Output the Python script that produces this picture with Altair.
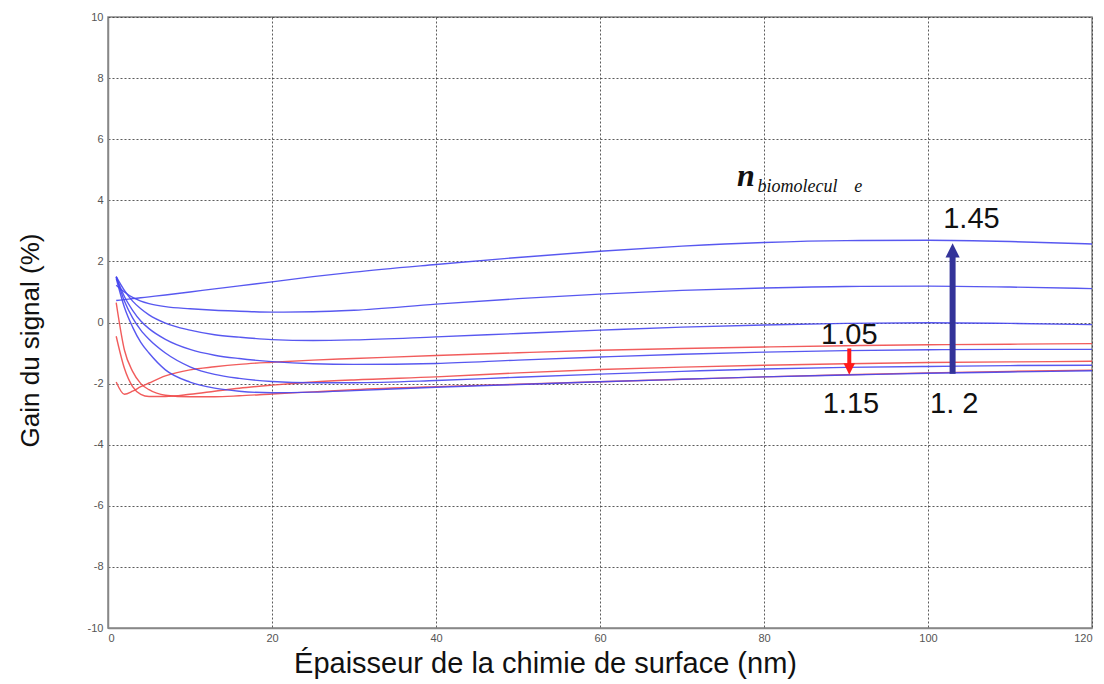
import altair as alt
import pandas as pd

# Thickness of the surface chemistry (nm)
thickness = [1, 2, 3, 4, 5, 7, 10, 13, 16, 20, 25, 30, 40, 50, 60, 70, 80, 90, 100, 110, 120]

# Signal gain (%) for each biomolecule refractive index
gain_105 = [-1.95, -2.35, -2.25, -2.10, -1.98, -1.75, -1.55, -1.45, -1.37, -1.30, -1.23, -1.18, -1.08, -0.99, -0.91, -0.85, -0.80, -0.76, -0.73, -0.71, -0.69]
gain_110 = [-0.45, -1.50, -2.10, -2.35, -2.42, -2.42, -2.35, -2.25, -2.15, -2.05, -1.95, -1.88, -1.78, -1.65, -1.54, -1.46, -1.40, -1.35, -1.31, -1.29, -1.27]
gain_115 = [0.65, -0.90, -1.60, -2.00, -2.20, -2.38, -2.43, -2.43, -2.40, -2.34, -2.27, -2.20, -2.10, -2.02, -1.94, -1.86, -1.78, -1.71, -1.65, -1.60, -1.56]
gain_120 = [1.45, 0.50, -0.15, -0.65, -1.00, -1.55, -1.95, -2.15, -2.25, -2.30, -2.28, -2.23, -2.12, -2.03, -1.94, -1.86, -1.78, -1.72, -1.66, -1.62, -1.58]
gain_125 = [1.50, 0.70, 0.15, -0.25, -0.55, -1.00, -1.45, -1.70, -1.83, -1.93, -1.97, -1.97, -1.90, -1.79, -1.69, -1.60, -1.52, -1.47, -1.44, -1.41, -1.40]
gain_130 = [1.50, 0.85, 0.40, 0.05, -0.20, -0.55, -0.88, -1.07, -1.18, -1.28, -1.35, -1.37, -1.34, -1.23, -1.13, -1.04, -0.97, -0.92, -0.89, -0.88, -0.88]
gain_135 = [1.50, 1.05, 0.70, 0.45, 0.25, -0.02, -0.25, -0.40, -0.48, -0.56, -0.59, -0.57, -0.47, -0.36, -0.25, -0.15, -0.08, -0.03, -0.01, -0.03, -0.07]
gain_140 = [1.22, 1.00, 0.82, 0.70, 0.62, 0.52, 0.45, 0.40, 0.37, 0.34, 0.35, 0.40, 0.60, 0.78, 0.93, 1.05, 1.13, 1.18, 1.19, 1.16, 1.11]
gain_145 = [0.72, 0.75, 0.78, 0.81, 0.84, 0.90, 1.00, 1.10, 1.20, 1.33, 1.50, 1.65, 1.90, 2.13, 2.33, 2.50, 2.62, 2.68, 2.69, 2.65, 2.57]

series_names = ["1.05", "1.10", "1.15", "1.20", "1.25", "1.30", "1.35", "1.40", "1.45"]
series_values = [gain_105, gain_110, gain_115, gain_120, gain_125, gain_130, gain_135, gain_140, gain_145]
series_colors = ["#f04a4a"] * 3 + ["#4646ee"] * 6

x_ticks = [0, 20, 40, 60, 80, 100, 120]
y_ticks = [-10, -8, -6, -4, -2, 0, 2, 4, 6, 8, 10]

rows = []
for name, vals in zip(series_names, series_values):
    for t, g in zip(thickness, vals):
        rows.append({"n": name, "x": t, "y": g})
df = pd.DataFrame(rows)

xscale = alt.Scale(domain=[0, 120], nice=False, zero=False)
yscale = alt.Scale(domain=[-10, 10], nice=False, zero=False)

x_axis = alt.Axis(
    values=x_ticks, title="Épaisseur de la chimie de surface (nm)",
    labelExpr="toString(datum.value)",
    labelFontSize=11, labelColor="#555555", labelFont="Liberation Sans", labelPadding=4,
    grid=True, gridDash=[2, 2], gridColor="#333333", gridOpacity=0.8,
    ticks=False, domainColor="#888888", domainWidth=1.5,
    titleFont="Liberation Sans", titleFontSize=29, titleFontWeight="normal", titleColor="#111111",
    titleX=437, titleY=44, titleBaseline="alphabetic", titleAlign="center",
)
y_axis = alt.Axis(
    values=y_ticks, title="Gain du signal (%)",
    labelExpr="toString(datum.value)",
    labelFontSize=11, labelColor="#555555", labelFont="Liberation Sans", labelPadding=5,
    grid=True, gridDash=[2, 2], gridColor="#333333", gridOpacity=0.8,
    ticks=False, domainColor="#888888", domainWidth=1.5,
    titleFont="Liberation Sans", titleFontSize=26, titleFontWeight="normal", titleColor="#111111",
    titleX=-70, titleY=323, titleBaseline="alphabetic", titleAlign="center", titleAngle=270,
)

lines = alt.Chart(df).mark_line(strokeWidth=1.4, interpolate="monotone", opacity=0.9).encode(
    x=alt.X("x:Q", scale=xscale, axis=x_axis),
    y=alt.Y("y:Q", scale=yscale, axis=y_axis),
    color=alt.Color("n:N", scale=alt.Scale(domain=series_names, range=series_colors), legend=None),
    detail="n:N",
)

# Arrows
blue_shaft = alt.Chart(pd.DataFrame({"x": [103.0], "y": [-1.68], "y2": [2.25]})).mark_rule(
    color="#333399", strokeWidth=6).encode(x="x:Q", y="y:Q", y2="y2:Q")
blue_head = alt.Chart(pd.DataFrame({"x": [103.0], "y": [2.36]})).mark_point(
    shape="M-1,1L0,-1L1,1Z", size=200, filled=True, color="#333399", opacity=1).encode(x="x:Q", y="y:Q")
red_shaft = alt.Chart(pd.DataFrame({"x": [90.4], "y": [-0.85], "y2": [-1.42]})).mark_rule(
    color="#ff1a1a", strokeWidth=4).encode(x="x:Q", y="y:Q", y2="y2:Q")
red_head = alt.Chart(pd.DataFrame({"x": [90.4], "y": [-1.52]})).mark_point(
    shape="M-1,-1L0,1L1,-1Z", size=130, filled=True, color="#ff1a1a", opacity=1).encode(x="x:Q", y="y:Q")

# Labels
labels_df = pd.DataFrame({
    "x": [105.3, 90.4, 90.6, 103.2],
    "y": [3.39, -0.41, -2.68, -2.68],
    "t": ["1.45", "1.05", "1.15", "1. 2"],
})
labels = alt.Chart(labels_df).mark_text(
    font="Liberation Sans", fontSize=29, color="#111111", align="center", baseline="middle"
).encode(x="x:Q", y="y:Q", text="t:N")

n_df = pd.DataFrame({"x": [76.7], "y": [4.48], "t": ["n"]})
n_text = alt.Chart(n_df).mark_text(
    font="Liberation Serif", fontSize=32, fontStyle="italic", fontWeight="bold", color="#111111",
    align="left", baseline="alphabetic"
).encode(x="x:Q", y="y:Q", text="t:N")
sub_df = pd.DataFrame({"x": [79.2, 91.0], "y": [4.26, 4.26], "t": ["biomolecul", "e"]})
sub_text = alt.Chart(sub_df).mark_text(
    font="Liberation Serif", fontSize=18, fontStyle="italic", color="#111111",
    align="left", baseline="alphabetic"
).encode(x="x:Q", y="y:Q", text="t:N")

chart = alt.layer(lines, blue_shaft, blue_head, red_shaft, red_head, labels, n_text, sub_text).properties(
    width=984, height=611,
    autosize=alt.AutoSizeParams(type="none"),
    padding={"left": 100, "top": 9, "right": 4, "bottom": 56},
    background="white",
).configure_view(stroke="#888888", strokeWidth=1.5)

chart.save("out.html", embed_options={"renderer": "svg", "actions": False})
